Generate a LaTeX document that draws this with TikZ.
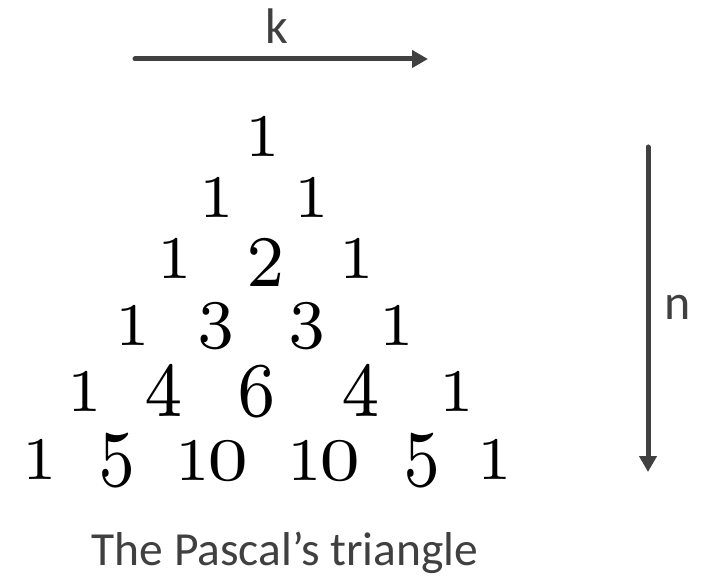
\documentclass[tikz,border=0pt]{standalone}
\usepackage{fontspec}
\usepackage{graphicx}
\newfontfamily\carlfont{Carlito}
\usetikzlibrary{arrows.meta}
\definecolor{ink}{HTML}{404040}
\font\numf=cmr7 at 60.5pt
\newcommand{\dsc}[3]{\scalebox{#1}[#2]{#3}}
\newcommand{\ten}{1\kern-2pt\scalebox{1.2}[1]{0}}
\begin{document}
\begin{tikzpicture}[x=1pt,y=-1pt,
  num/.style={inner sep=0pt, font=\numf, text=black},
  lbl/.style={inner sep=0pt, text=ink, font=\carlfont\fontsize{50}{50}\selectfont},
  captext/.style={inner sep=0pt, text=ink, font=\carlfont\fontsize{47.5}{48}\selectfont},
  arr/.style={draw=ink, line width=5pt, line cap=round, -{Triangle[length=16pt,width=17pt]}}]
\useasboundingbox (0,0) rectangle (710,577);
% row 1
\node[num] (r1a) at (263,137) {1};
% row 2
\node[num] (r2a) at (217,198) {1};
\node[num] (r2b) at (312,198) {1};
% row 3
\node[num] (r3a) at (175,259) {1};
\node[num] (r3b) at (266,263) {\dsc{1.12}{1.2}{2}};
\node[num] (r3c) at (357,259) {1};
% row 4
\node[num] (r4a) at (133,326) {1};
\node[num] (r4b) at (216,326) {\dsc{1.08}{1.15}{3}};
\node[num] (r4c) at (307,326) {\dsc{1.08}{1.15}{3}};
\node[num] (r4d) at (397,326) {1};
% row 5
\node[num] (r5a) at (85,392) {1};
\node[num] (r5b) at (164,392) {\dsc{1.12}{1.28}{4}};
\node[num] (r5c) at (257,392) {\dsc{1.12}{1.28}{6}};
\node[num] (r5d) at (361,392) {\dsc{1.12}{1.28}{4}};
\node[num] (r5e) at (457,392) {1};
% row 6
\node[num] (r6a) at (40,460) {1};
\node[num] (r6b) at (117,461) {\dsc{1.08}{1.33}{5}};
\node[num] (r6c) at (212,461) {\ten};
\node[num] (r6d) at (324,461) {\ten};
\node[num] (r6e) at (422,461) {\dsc{1.08}{1.33}{5}};
\node[num] (r6f) at (495,460) {1};
% axes
\coordinate (ks) at (135,59);
\coordinate (ke) at (428,59);
\coordinate (ns) at (648,147);
\coordinate (ne) at (648,472);
\draw[arr] (ks) -- (ke);
\draw[arr] (ns) -- (ne);
\node[lbl] (k) at (277,26) {k};
\node[lbl] (n) at (678,307) {n};
\node[captext, anchor=base] (caption) at (285,565) {The Pascal’s triangle};
\end{tikzpicture}
\end{document}
